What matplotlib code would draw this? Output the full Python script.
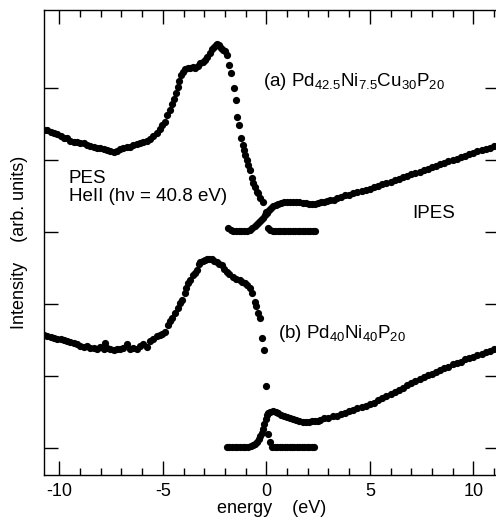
import matplotlib
matplotlib.use("Agg")
import matplotlib.pyplot as plt
from matplotlib.ticker import MultipleLocator

plt.rcParams["font.family"] = ["Liberation Sans", "DejaVu Sans"]
plt.rcParams["mathtext.fontset"] = "custom"
plt.rcParams["mathtext.rm"] = "Liberation Sans"
plt.rcParams["mathtext.it"] = "Liberation Sans:italic"
plt.rcParams["axes.unicode_minus"] = False

# (a) Pd42.5Ni7.5Cu30P20 - photoemission (He II)
pes_a_x = [-10.74, -10.58, -10.42, -10.26, -10.1, -9.94, -9.78, -9.62, -9.46, -9.3,
           -9.14, -8.98, -8.82, -8.66, -8.5, -8.34, -8.18, -8.02, -7.86, -7.7,
           -7.54, -7.38, -7.22, -7.06, -6.9, -6.74, -6.58, -6.42, -6.26, -6.1,
           -5.94, -5.78, -5.62, -5.46, -5.3, -5.15, -5.02, -4.9, -4.78, -4.67,
           -4.57, -4.47, -4.38, -4.29, -4.2, -4.11, -4.02, -3.92, -3.8, -3.68,
           -3.56, -3.44, -3.32, -3.2, -3.08, -2.96, -2.85, -2.74, -2.64, -2.54,
           -2.45, -2.36, -2.27, -2.18, -2.09, -2.0, -1.92, -1.82, -1.73, -1.58,
           -1.48, -1.43, -1.34, -1.24, -1.14, -1.1, -1.05, -0.95, -0.9, -0.81,
           -0.71, -0.66, -0.57, -0.47, -0.42, -0.32, -0.18, 0.0, 0.1, 0.2,
           0.32, 0.44, 0.56, 0.68, 0.8, 0.92, 1.04, 1.16, 1.28, 1.4,
           1.52, 1.64, 1.76, 1.88, 2.0, 2.12, 2.24, 2.35]
pes_a_y = [4.42, 4.41, 4.39, 4.37, 4.36, 4.33, 4.31, 4.30, 4.27, 4.25,
           4.25, 4.24, 4.23, 4.21, 4.19, 4.18, 4.17, 4.16, 4.15, 4.14,
           4.13, 4.11, 4.13, 4.15, 4.17, 4.18, 4.18, 4.21, 4.22, 4.23,
           4.25, 4.26, 4.29, 4.33, 4.37, 4.43, 4.49, 4.53, 4.63, 4.70,
           4.78, 4.85, 4.93, 5.02, 5.10, 5.18, 5.22, 5.26, 5.28, 5.28,
           5.29, 5.28, 5.31, 5.34, 5.36, 5.39, 5.43, 5.48, 5.54, 5.57,
           5.59, 5.61, 5.59, 5.55, 5.53, 5.51, 5.46, 5.32, 5.21, 5.0,
           4.83, 4.60, 4.49, 4.31, 4.21, 4.14, 4.07, 4.0, 3.93, 3.86,
           3.75, 3.68, 3.62, 3.56, 3.54, 3.47, 3.42, 3.28, 3.06, 3.03,
           3.02, 3.02, 3.01, 3.02, 3.02, 3.01, 3.02, 3.02, 3.01, 3.02,
           3.02, 3.01, 3.02, 3.02, 3.01, 3.02, 3.02, 3.02]

# (a) inverse photoemission
ipes_a_x = [-1.85, -1.72, -1.59, -1.46, -1.33, -1.2, -1.07, -0.94, -0.81, -0.68,
            -0.55, -0.44, -0.34, -0.25, -0.16, -0.07, 0.02, 0.12, 0.22, 0.33,
            0.45, 0.58, 0.72, 0.86, 1.0, 1.15, 1.3, 1.45, 1.6, 1.75,
            1.9, 2.05, 2.2, 2.35, 2.5, 2.65, 2.8, 2.95, 3.1, 3.25,
            3.4, 3.6, 3.8, 4.0, 4.2, 4.4, 4.6, 4.8, 5.0, 5.2,
            5.4, 5.6, 5.8, 6.0, 6.2, 6.4, 6.6, 6.8, 7.0, 7.2,
            7.4, 7.6, 7.8, 8.0, 8.2, 8.4, 8.6, 8.8, 9.0, 9.2,
            9.4, 9.6, 9.8, 10.0, 10.2, 10.4, 10.6, 10.8, 11.0, 11.2]
ipes_a_y = [3.05, 3.03, 3.02, 3.01, 3.01, 3.01, 3.01, 3.02, 3.03, 3.05,
            3.08, 3.11, 3.14, 3.17, 3.20, 3.23, 3.27, 3.31, 3.34, 3.36,
            3.38, 3.39, 3.40, 3.41, 3.42, 3.42, 3.42, 3.42, 3.41, 3.40,
            3.40, 3.39, 3.39, 3.39, 3.40, 3.41, 3.42, 3.43, 3.44, 3.45,
            3.47, 3.49, 3.51, 3.52, 3.54, 3.55, 3.57, 3.58, 3.60, 3.62,
            3.64, 3.66, 3.68, 3.70, 3.72, 3.74, 3.76, 3.78, 3.80, 3.82,
            3.84, 3.86, 3.88, 3.90, 3.92, 3.94, 3.96, 3.98, 4.00, 4.02,
            4.04, 4.06, 4.08, 4.10, 4.12, 4.14, 4.15, 4.17, 4.19, 4.21]

# (b) Pd40Ni40P20 - photoemission
pes_b_x = [-10.74, -10.58, -10.42, -10.26, -10.1, -9.94, -9.78, -9.62, -9.46, -9.3,
           -9.14, -8.98, -8.82, -8.66, -8.5, -8.34, -8.18, -8.02, -7.86, -7.78,
           -7.7, -7.54, -7.38, -7.22, -7.06, -6.9, -6.74, -6.58, -6.42, -6.26,
           -6.1, -5.94, -5.78, -5.62, -5.46, -5.3, -5.15, -5.02, -4.91, -4.77,
           -4.67, -4.57, -4.43, -4.28, -4.17, -4.09, -3.95, -3.87, -3.8, -3.71,
           -3.56, -3.46, -3.37, -3.27, -3.18, -3.08, -2.98, -2.86, -2.75, -2.64,
           -2.52, -2.4, -2.28, -2.16, -2.04, -1.92, -1.78, -1.63, -1.46, -1.29,
           -1.17, -1.05, -0.93, -0.81, -0.71, -0.57, -0.5, -0.42, -0.32, -0.23,
           -0.13, -0.03, 0.08, 0.16, 0.28, 0.4, 0.52, 0.64, 0.76, 0.88,
           1.0, 1.12, 1.24, 1.36, 1.48, 1.6, 1.72, 1.84, 1.96, 2.08,
           2.2, 2.32]
pes_b_y = [1.57, 1.56, 1.54, 1.53, 1.52, 1.52, 1.50, 1.49, 1.47, 1.46,
           1.44, 1.42, 1.40, 1.41, 1.39, 1.39, 1.37, 1.40, 1.38, 1.46,
           1.39, 1.37, 1.36, 1.38, 1.37, 1.39, 1.44, 1.38, 1.39, 1.38,
           1.42, 1.45, 1.40, 1.48, 1.52, 1.55, 1.57, 1.59, 1.61, 1.71,
           1.76, 1.81, 1.875, 1.94, 2.01, 2.06, 2.15, 2.22, 2.29, 2.33,
           2.40, 2.43, 2.47, 2.55, 2.58, 2.60, 2.61, 2.62, 2.62, 2.62,
           2.60, 2.58, 2.56, 2.54, 2.49, 2.44, 2.41, 2.38, 2.35, 2.33,
           2.31, 2.29, 2.26, 2.22, 2.15, 2.03, 1.97, 1.875, 1.81, 1.53,
           1.36, 0.86, 0.20, 0.08, 0.02, 0.01, 0.01, 0.02, 0.01, 0.01,
           0.02, 0.01, 0.01, 0.02, 0.01, 0.01, 0.02, 0.01, 0.01, 0.02,
           0.01, 0.01]

# (b) inverse photoemission
ipes_b_x = [-1.92, -1.79, -1.66, -1.53, -1.4, -1.27, -1.14, -1.01, -0.88, -0.76,
            -0.64, -0.54, -0.45, -0.37, -0.3, -0.23, -0.16, -0.09, -0.03, 0.03,
            0.1, 0.2, 0.32, 0.45, 0.58, 0.72, 0.86, 1.0, 1.15, 1.3,
            1.45, 1.6, 1.75, 1.9, 2.05, 2.2, 2.35, 2.5, 2.6, 2.8,
            3.0, 3.2, 3.4, 3.6, 3.8, 4.0, 4.2, 4.4, 4.6, 4.8,
            5.0, 5.2, 5.4, 5.6, 5.8, 6.0, 6.2, 6.4, 6.6, 6.8,
            7.0, 7.2, 7.4, 7.6, 7.8, 8.0, 8.2, 8.4, 8.6, 8.8,
            9.0, 9.2, 9.4, 9.6, 9.8, 10.0, 10.2, 10.4, 10.6, 10.8,
            11.0, 11.2]
ipes_b_y = [0.02, 0.01, 0.01, 0.01, 0.02, 0.01, 0.01, 0.02, 0.02, 0.03,
            0.04, 0.06, 0.09, 0.13, 0.17, 0.21, 0.27, 0.34, 0.40, 0.46,
            0.49, 0.50, 0.51, 0.50, 0.49, 0.46, 0.44, 0.43, 0.42, 0.40,
            0.39, 0.37, 0.36, 0.36, 0.36, 0.37, 0.37, 0.38, 0.39, 0.41,
            0.42, 0.44, 0.45, 0.47, 0.49, 0.51, 0.53, 0.55, 0.57, 0.59,
            0.61, 0.63, 0.66, 0.69, 0.72, 0.75, 0.78, 0.81, 0.84, 0.87,
            0.90, 0.93, 0.96, 0.98, 1.01, 1.03, 1.06, 1.08, 1.11, 1.13,
            1.16, 1.18, 1.20, 1.23, 1.25, 1.27, 1.29, 1.31, 1.33, 1.35,
            1.37, 1.39]

fig = plt.figure(figsize=(4.96, 5.2), dpi=100)
# axes run slightly past the right edge of the image, like the original scan
ax = fig.add_axes([44 / 496, 45 / 520, 455 / 496, 465 / 520])

for xs, ys in [(pes_a_x, pes_a_y), (ipes_a_x, ipes_a_y),
               (pes_b_x, pes_b_y), (ipes_b_x, ipes_b_y)]:
    ax.plot(xs, ys, "o", color="black", markersize=5.2, markeredgewidth=0)

ax.set_xlim(-10.74, 11.24)
ax.set_ylim(-0.375, 6.083)

ax.xaxis.set_major_locator(MultipleLocator(5))
ax.xaxis.set_minor_locator(MultipleLocator(1))
ax.set_yticks([0, 1, 2, 3, 4, 5])
ax.tick_params(axis="both", which="both", direction="in", top=True, right=True,
               width=1.0, color="black")
ax.tick_params(axis="x", which="major", length=10, labelsize=13, pad=6)
ax.tick_params(axis="x", which="minor", length=5)
ax.tick_params(axis="y", which="major", length=10, labelleft=False)
for side in ax.spines.values():
    side.set_linewidth(1.0)

ax.set_xlabel("energy    (eV)", fontsize=13)
ax.xaxis.set_label_coords(0.5, -0.054)
ax.set_ylabel("Intensity    (arb. units)", fontsize=13)
ax.yaxis.set_label_coords(-0.036, 0.5)

ax.text(-9.55, 3.68, "PES", fontsize=13.5)
ax.text(-9.55, 3.43, "HeII (h\u03bd = 40.8 eV)", fontsize=13.5)
ax.text(-0.18, 5.03, r"(a) Pd$_{42.5}$Ni$_{7.5}$Cu$_{30}$P$_{20}$", fontsize=13.5)
ax.text(7.07, 3.19, "IPES", fontsize=13.5)
ax.text(0.56, 1.53, r"(b) Pd$_{40}$Ni$_{40}$P$_{20}$", fontsize=13.5)

fig.savefig("out.png", dpi=100)
